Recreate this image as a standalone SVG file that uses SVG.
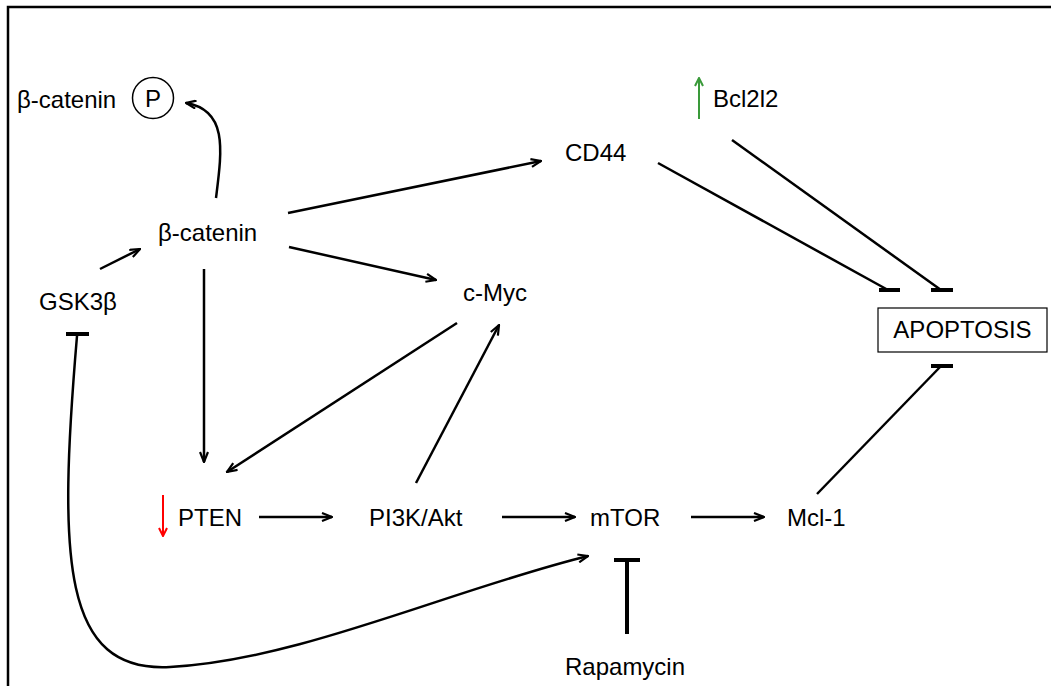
<svg xmlns="http://www.w3.org/2000/svg" width="1051" height="686" viewBox="0 0 1051 686">
<style>
  text { font-family: "Liberation Sans", Arial, sans-serif; font-size: 24px; fill: #000; }
  .ln { fill: none; stroke: #000; stroke-width: 2.5; }
  .bar { stroke: #000; stroke-width: 4; }
</style>
<defs>
  <marker id="arr" viewBox="0 0 12 10" refX="11" refY="5" markerWidth="12" markerHeight="10" orient="auto" markerUnits="userSpaceOnUse">
    <path d="M1,1 L11,5 L1,9" fill="none" stroke="#000" stroke-width="2.2"/>
  </marker>
  <marker id="arrR" viewBox="0 0 10 10" refX="9" refY="5" markerWidth="10" markerHeight="10" orient="auto" markerUnits="userSpaceOnUse">
    <path d="M1,1 L9,5 L1,9" fill="none" stroke="#ff0000" stroke-width="2"/>
  </marker>
  <marker id="arrG" viewBox="0 0 10 10" refX="9" refY="5" markerWidth="10" markerHeight="10" orient="auto" markerUnits="userSpaceOnUse">
    <path d="M1,1 L9,5 L1,9" fill="none" stroke="#3a9a3a" stroke-width="2"/>
  </marker>
</defs>
<rect width="1051" height="686" fill="#fff"/>
<path d="M8,690 L8,7 L1060,7" fill="none" stroke="#000" stroke-width="2.5"/>

<g id="node-bcatenin-p">
  <text x="17" y="108">β-catenin</text>
  <circle cx="153" cy="98" r="20.5" fill="none" stroke="#000" stroke-width="1.5"/>
  <text x="153" y="107" text-anchor="middle">P</text>
</g>
<g id="node-bcatenin"><text x="158" y="241">β-catenin</text></g>
<g id="node-gsk3b"><text x="39" y="310">GSK3β</text></g>
<g id="node-cd44"><text x="565" y="161">CD44</text></g>
<g id="node-bcl2l2">
  <line x1="699" y1="119" x2="699" y2="78" stroke="#3a9a3a" stroke-width="2" marker-end="url(#arrG)"/>
  <text x="713" y="107">Bcl2l2</text>
</g>
<g id="node-cmyc"><text x="463" y="301">c-Myc</text></g>
<g id="node-apoptosis">
  <rect x="878" y="308" width="169" height="44" fill="#fff" stroke="#000" stroke-width="1.2"/>
  <text x="962.5" y="338" text-anchor="middle">APOPTOSIS</text>
</g>
<g id="node-pten">
  <line x1="163" y1="495" x2="163" y2="536" stroke="#ff0000" stroke-width="2" marker-end="url(#arrR)"/>
  <text x="178" y="526">PTEN</text>
</g>
<g id="node-pi3k"><text x="369" y="526">PI3K/Akt</text></g>
<g id="node-mtor"><text x="590" y="526">mTOR</text></g>
<g id="node-mcl1"><text x="787" y="526">Mcl-1</text></g>
<g id="node-rapamycin"><text x="565" y="675">Rapamycin</text></g>

<g id="connectors">
  <path class="ln" d="M216,198 C222,150 228,110 186,103" marker-end="url(#arr)"/>
  <line class="ln" x1="100" y1="269" x2="140" y2="249" marker-end="url(#arr)"/>
  <line class="ln" x1="288" y1="213" x2="541" y2="161" marker-end="url(#arr)"/>
  <line class="ln" x1="289" y1="247" x2="436" y2="280" marker-end="url(#arr)"/>
  <line class="ln" x1="204" y1="269" x2="204" y2="462" marker-end="url(#arr)"/>
  <line class="ln" x1="457" y1="323" x2="227" y2="472" marker-end="url(#arr)"/>
  <line class="ln" x1="416" y1="483" x2="499" y2="325" marker-end="url(#arr)"/>
  <line class="ln" x1="259" y1="517" x2="332" y2="517" marker-end="url(#arr)"/>
  <line class="ln" x1="502" y1="517" x2="575" y2="517" marker-end="url(#arr)"/>
  <line class="ln" x1="691" y1="517" x2="764" y2="517" marker-end="url(#arr)"/>
  <path class="ln" d="M77,336 C58,560 62,673 170,667 C300,660 450,590 588,556" marker-end="url(#arr)"/>
  <line class="bar" x1="66" y1="334" x2="89" y2="334"/>
  <line class="ln" x1="658" y1="163" x2="888" y2="290"/>
  <line class="bar" x1="879" y1="290" x2="900" y2="290"/>
  <line class="ln" x1="732" y1="140" x2="941" y2="290"/>
  <line class="bar" x1="931" y1="290" x2="953" y2="290"/>
  <line class="ln" x1="817" y1="494" x2="941" y2="366"/>
  <line class="bar" x1="931" y1="366" x2="953" y2="366"/>
  <line class="bar" x1="627" y1="634" x2="627" y2="560"/>
  <line class="bar" x1="614" y1="560" x2="640" y2="560"/>
</g>
</svg>
